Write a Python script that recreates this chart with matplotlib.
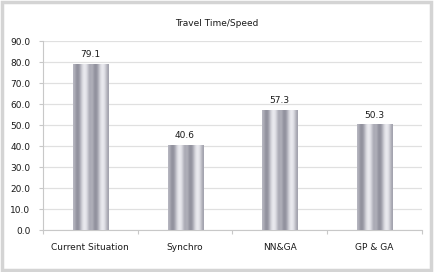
import matplotlib.pyplot as plt
import numpy as np
from matplotlib.patches import Rectangle
from matplotlib.colors import LinearSegmentedColormap

categories = ["Current Situation", "Synchro", "NN&GA", "GP & GA"]
values = [79.1, 40.6, 57.3, 50.3]
yticks = [0, 10, 20, 30, 40, 50, 60, 70, 80, 90]

fig = plt.figure(figsize=(4.34, 2.72), dpi=100)
fig.patches.append(Rectangle((0.004, 0.006), 0.99, 0.988, transform=fig.transFigure,
                             fill=False, edgecolor="#d4d4d4", linewidth=2.5))
ax = fig.add_axes([0.099, 0.154, 0.873, 0.695])

# two side-by-side "cylinders" shading across each bar
half = [0.72, 0.52, 0.58, 0.86, 0.97, 0.88, 0.62]
profile = np.array(half + half)
cmap = LinearSegmentedColormap.from_list("bar", ["#70707f", "#f6f6fa"])
grad = profile[np.newaxis, :]

width = 0.37
xs = np.arange(len(categories)) + 0.5
bars = ax.bar(xs, values, width=width, color="none", edgecolor="none", zorder=3)
for b, v in zip(bars, values):
    x0 = b.get_x()
    im = ax.imshow(grad, cmap=cmap, vmin=0.4, vmax=1.0, aspect="auto",
                   interpolation="bicubic", extent=(x0, x0 + width, 0, v), zorder=3)
    im.set_clip_path(b)
    ax.text(b.get_x() + width / 2, v + 2.2, f"{v:.1f}", ha="center", va="bottom",
            fontsize=6.5, color="#1a1a1a", zorder=4)

ax.set_xlim(0, len(categories))
ax.set_ylim(0, 90)
ax.set_yticks(yticks)
ax.set_yticklabels([f"{t:.1f}" for t in yticks], fontsize=6.5, color="#1a1a1a")
ax.set_xticks(np.arange(len(categories) + 1))
ax.set_xticklabels([])
ax.set_xticks(xs, minor=True)
ax.set_xticklabels(categories, minor=True, fontsize=6.5, color="#1a1a1a")
ax.tick_params(axis="x", which="minor", length=0, pad=9)
ax.tick_params(axis="x", which="major", length=3, color="#c8c8c8")
ax.tick_params(axis="y", length=3, color="#c8c8c8", pad=6)
ax.grid(axis="y", color="#e0e0e0", linewidth=0.9, zorder=0)
ax.set_axisbelow(True)
for s in ["top", "right"]:
    ax.spines[s].set_visible(False)
ax.spines["left"].set_color("#c8c8c8")
ax.spines["bottom"].set_color("#c8c8c8")

fig.text(0.5, 0.915, "Travel Time/Speed", ha="center", va="center", fontsize=6.5,
         color="#1a1a1a")

fig.savefig("out.png", dpi=100)
